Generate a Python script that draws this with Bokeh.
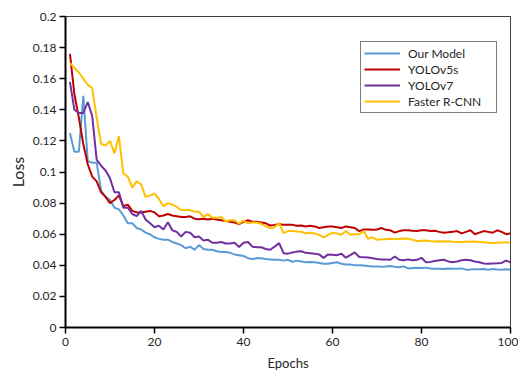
from bokeh.plotting import figure
from bokeh.models import Range1d, FixedTicker, CustomJSTickFormatter, Legend, LegendItem
from bokeh.embed import file_html
from bokeh.resources import INLINE

epochs = list(range(1, 101))

our_model = [
    0.125, 0.113, 0.113, 0.149, 0.107, 0.106, 0.106, 0.088, 0.084, 0.082,
    0.077, 0.076, 0.072, 0.067, 0.067, 0.064, 0.063, 0.061, 0.060, 0.058,
    0.057, 0.0565, 0.0565, 0.055, 0.054, 0.053, 0.051, 0.052, 0.050, 0.053,
    0.0505, 0.050, 0.050, 0.049, 0.0485, 0.0485, 0.048, 0.047, 0.0465, 0.046,
    0.0446, 0.044, 0.0445, 0.0446, 0.044, 0.0438, 0.0435, 0.0435, 0.043, 0.0435,
    0.0423, 0.043, 0.0425, 0.042, 0.0422, 0.042, 0.0415, 0.041, 0.041, 0.0415,
    0.042, 0.041, 0.0405, 0.0405, 0.040, 0.040, 0.0398, 0.0395, 0.0393, 0.0392,
    0.039, 0.0392, 0.0395, 0.039, 0.0388, 0.0393, 0.038, 0.0383, 0.0385, 0.0383,
    0.0385, 0.038, 0.0378, 0.0378, 0.0376, 0.038, 0.0378, 0.0378, 0.038, 0.0372,
    0.0373, 0.0375, 0.0374, 0.0376, 0.0372, 0.0376, 0.0373, 0.0372, 0.0375, 0.0372,
]

yolov5s = [
    0.176, 0.150, 0.135, 0.118, 0.105, 0.097, 0.094, 0.087, 0.084, 0.080,
    0.082, 0.085, 0.078, 0.079, 0.075, 0.074, 0.074, 0.0745, 0.075, 0.074,
    0.0715, 0.072, 0.073, 0.072, 0.0715, 0.071, 0.071, 0.0715, 0.070, 0.0696,
    0.070, 0.0695, 0.070, 0.0695, 0.069, 0.0685, 0.068, 0.0675, 0.0665, 0.068,
    0.069, 0.068, 0.068, 0.0675, 0.067, 0.0656, 0.066, 0.0665, 0.066, 0.066,
    0.066, 0.0655, 0.0656, 0.065, 0.0655, 0.065, 0.064, 0.0645, 0.065, 0.065,
    0.0645, 0.064, 0.065, 0.0645, 0.064, 0.062, 0.063, 0.063, 0.0628, 0.063,
    0.064, 0.0628, 0.0625, 0.061, 0.062, 0.0625, 0.0625, 0.0622, 0.062, 0.0625,
    0.0625, 0.062, 0.0622, 0.0615, 0.061, 0.0612, 0.0615, 0.062, 0.0605, 0.0615,
    0.0625, 0.060, 0.061, 0.062, 0.0615, 0.061, 0.0625, 0.0615, 0.060, 0.0605,
]

yolov7 = [
    0.158, 0.140, 0.138, 0.138, 0.145, 0.136, 0.108, 0.104, 0.101, 0.096,
    0.087, 0.087, 0.077, 0.077, 0.073, 0.0716, 0.075, 0.0695, 0.067, 0.0645,
    0.0655, 0.063, 0.0677, 0.0625, 0.0615, 0.0585, 0.0615, 0.061, 0.058, 0.0585,
    0.056, 0.0565, 0.0545, 0.0545, 0.055, 0.054, 0.054, 0.0545, 0.0518, 0.0545,
    0.055, 0.052, 0.0516, 0.0516, 0.0505, 0.050, 0.052, 0.0543, 0.0478, 0.0475,
    0.0483, 0.0488, 0.049, 0.048, 0.0478, 0.0475, 0.047, 0.0448, 0.047, 0.0468,
    0.0465, 0.0475, 0.0449, 0.0465, 0.0483, 0.0453, 0.0452, 0.045, 0.0445, 0.044,
    0.0438, 0.0437, 0.0436, 0.0457, 0.0436, 0.0432, 0.0438, 0.0433, 0.0435, 0.0448,
    0.042, 0.0422, 0.0428, 0.0432, 0.0436, 0.0425, 0.042, 0.0425, 0.0432, 0.0436,
    0.0432, 0.0425, 0.042, 0.0412, 0.041, 0.0412, 0.0413, 0.0415, 0.043, 0.042,
]

faster_rcnn = [
    0.170, 0.167, 0.164, 0.160, 0.156, 0.154, 0.135, 0.118, 0.117, 0.120,
    0.112, 0.123, 0.099, 0.097, 0.090, 0.094, 0.092, 0.084, 0.085, 0.086,
    0.0827, 0.078, 0.080, 0.079, 0.0775, 0.0755, 0.0755, 0.0755, 0.0745, 0.0745,
    0.071, 0.073, 0.0705, 0.0705, 0.071, 0.0683, 0.069, 0.069, 0.0667, 0.0687,
    0.067, 0.0675, 0.0675, 0.0667, 0.065, 0.064, 0.0645, 0.0672, 0.0607, 0.062,
    0.062, 0.0618, 0.0616, 0.0605, 0.061, 0.0605, 0.0595, 0.058, 0.0595, 0.061,
    0.0605, 0.0597, 0.062, 0.0597, 0.060, 0.060, 0.062, 0.057, 0.058, 0.0564,
    0.0568, 0.0568, 0.057, 0.0568, 0.057, 0.0572, 0.057, 0.0565, 0.0555, 0.0558,
    0.056, 0.0555, 0.0553, 0.0555, 0.0553, 0.0555, 0.0552, 0.055, 0.055, 0.0553,
    0.0552, 0.0553, 0.055, 0.0548, 0.0545, 0.0543, 0.0545, 0.0546, 0.0547, 0.0547,
]

series_names = ["Our Model", "YOLOv5s", "YOLOv7", "Faster R-CNN"]
series_values = [our_model, yolov5s, yolov7, faster_rcnn]
series_colors = ["#5B9BD5", "#C00000", "#7030A0", "#FFC000"]

x_ticks = [0, 20, 40, 60, 80, 100]
y_ticks = [0, 0.02, 0.04, 0.06, 0.08, 0.1, 0.12, 0.14, 0.16, 0.18, 0.2]

FONT = "Lato"
TXT = "#262626"

p = figure(frame_width=445, frame_height=311, output_backend="svg", toolbar_location=None,
           x_range=Range1d(0, 100), y_range=Range1d(0, 0.2),
           min_border_left=65, min_border_right=8, min_border_top=16, min_border_bottom=46)
p.background_fill_color = "white"
p.border_fill_color = "white"
p.outline_line_color = "#404040"
p.outline_line_width = 1
p.xgrid.visible = False
p.ygrid.visible = False

items = []
for name, vals, col in zip(series_names, series_values, series_colors):
    r = p.line(epochs, vals, line_color=col, line_width=2)
    items.append(LegendItem(label=name, renderers=[r]))

for ax in (p.xaxis[0], p.yaxis[0]):
    ax.axis_line_color = "black"
    ax.axis_line_width = 2
    ax.major_tick_line_color = "black"
    ax.major_tick_line_width = 1.5
    ax.major_tick_out = 6
    ax.major_tick_in = 0
    ax.minor_tick_out = 0
    ax.minor_tick_in = 0
    ax.major_label_text_font = FONT
    ax.major_label_text_font_size = "12px"
    ax.major_label_text_color = TXT
    ax.axis_label_text_font = FONT
    ax.axis_label_text_font_style = "normal"
    ax.axis_label_text_color = TXT

p.xaxis[0].ticker = FixedTicker(ticks=x_ticks)
p.yaxis[0].ticker = FixedTicker(ticks=y_ticks)
p.yaxis[0].formatter = CustomJSTickFormatter(
    code="var s = tick.toFixed(2); s = s.replace(/0+$/, '').replace(/\\.$/, ''); return s;")
p.xaxis[0].axis_label = "Epochs"
p.xaxis[0].axis_label_text_font_size = "13px"
p.xaxis[0].axis_label_standoff = 6
p.xaxis[0].major_label_standoff = 4
p.yaxis[0].axis_label = "Loss"
p.yaxis[0].axis_label_text_font_size = "16px"
p.yaxis[0].axis_label_standoff = 3
p.yaxis[0].major_label_standoff = 3

legend = Legend(items=items, location=(295, 214),
                label_text_font=FONT, label_text_font_size="12px", label_text_color=TXT,
                glyph_width=36, glyph_height=16, label_height=16, label_width=85,
                label_standoff=8, spacing=0, padding=3, margin=0,
                border_line_color="black", border_line_width=1,
                background_fill_color="white", background_fill_alpha=1)
p.add_layout(legend)

open("out.html", "w").write(file_html(p, INLINE))
